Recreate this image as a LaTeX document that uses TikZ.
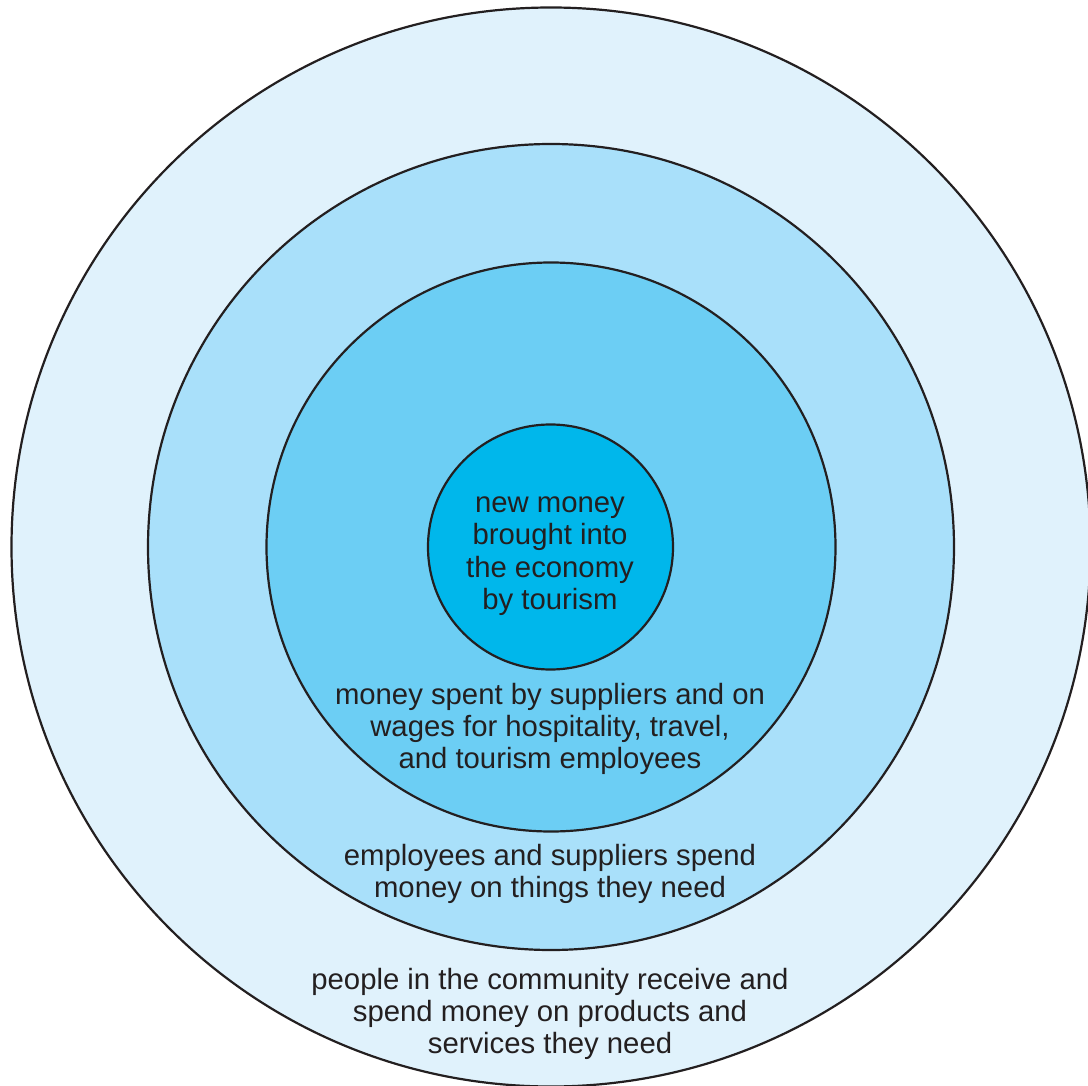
\documentclass[tikz,border=0pt]{standalone}
\usepackage{fontspec}
\setmainfont{Liberation Sans}
\definecolor{ringA}{RGB}{224,242,252}
\definecolor{ringB}{RGB}{169,224,250}
\definecolor{ringC}{RGB}{108,206,244}
\definecolor{ringD}{RGB}{0,183,235}
\definecolor{ink}{RGB}{35,31,32}
\tikzset{
  ring/.style={circle, draw=ink, line width=2.2pt, inner sep=0pt, outer sep=0pt},
  lbl/.style={align=center, text=ink, font=\fontsize{29.3}{32.4}\selectfont, inner sep=0pt}
}
\begin{document}
\begin{tikzpicture}[x=1pt,y=-1pt]
\fill[white] (0,0) rectangle (1088,1086);
\useasboundingbox (0,0) rectangle (1088,1086);
\node[ring, fill=ringA, minimum size=1079pt] (outer) at (551,547) {};
\node[ring, fill=ringB, minimum size=806pt] (second) at (551,547) {};
\node[ring, fill=ringC, minimum size=569pt] (third) at (551,547) {};
\node[ring, fill=ringD, minimum size=245pt] (inner) at (550.5,547) {};
\node[lbl] (tinner) at (550,556) {new money\\brought into\\the economy\\by tourism};
\node[lbl] (tthird) at (550,729) {money spent by suppliers and on\\wages for hospitality, travel,\\and tourism employees};
\node[lbl] (tsecond) at (550,874) {employees and suppliers spend\\money on things they need};
\node[lbl] (touter) at (550,1014) {people in the community receive and\\spend money on products and\\services they need};
\end{tikzpicture}
\end{document}
